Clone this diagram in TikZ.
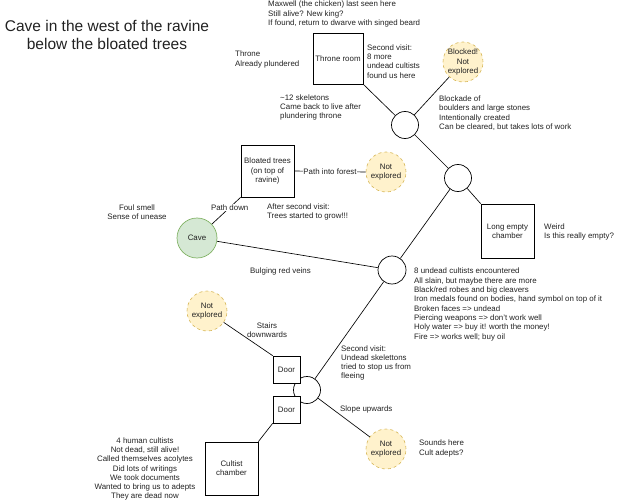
\documentclass[tikz,border=0pt]{standalone}
\usepackage{fontspec}
\setmainfont{Liberation Sans}
\definecolor{nefill}{HTML}{FFF2CC}
\definecolor{nedraw}{HTML}{D6B656}
\definecolor{cavefill}{HTML}{D5E8D4}
\definecolor{cavedraw}{HTML}{82B366}
\definecolor{txt}{HTML}{222222}
\begin{document}
\begin{tikzpicture}[x=1pt,y=-1pt,
  every node/.style={text=txt},
  small/.style={font=\fontsize{7.9}{9.3}\selectfont},
  note/.style={small,inner sep=0pt,align=left,anchor=west},
  cnote/.style={small,inner sep=0pt,align=center},
  room/.style={draw=black,fill=white,line width=0.7pt,small,align=center,inner sep=0pt},
  junc/.style={draw=black,fill=white,circle,line width=0.7pt,minimum size=27pt,inner sep=0pt},
  unexp/.style={draw=nedraw,fill=nefill,dashed,circle,line width=0.6pt,minimum size=40pt,inner sep=0pt,small,align=center},
  link/.style={draw=black,line width=0.65pt},
  elabel/.style={small,fill=white,inner sep=0.5pt}
]
\useasboundingbox (0,0) rectangle (637,500);

% title
\node[font=\fontsize{15.5}{18}\selectfont,align=center,inner sep=0pt] (title) at (107,35) {Cave in the west of the ravine\\below the bloated trees};

% rooms
\node[room,minimum width=50pt,minimum height=51pt] (throne) at (338,58.5) {Throne room};
\node[room,minimum width=53pt,minimum height=52pt] (trees) at (267.5,171) {Bloated trees\\(on top of\\ravine)};
\node[room,minimum width=53pt,minimum height=54pt] (long) at (507.5,231) {Long empty\\chamber};
\node[room,minimum width=53pt,minimum height=53pt] (cultist) at (231.5,468.5) {Cultist\\chamber};

% junctions
\node[junc] (j1) at (405,125) {};
\node[junc] (j2) at (458,178) {};
\node[junc,minimum size=28pt] (j3) at (392,270) {};
\node[junc] (j4) at (307,390) {};

% doors (on top of junction 4)
\node[room,minimum width=27pt,minimum height=27pt] (door1) at (286.5,369.5) {Door};
\node[room,minimum width=27pt,minimum height=27pt] (door2) at (286.5,409.5) {Door};

% cave
\node[draw=cavedraw,fill=cavefill,circle,line width=0.7pt,minimum size=40pt,inner sep=0pt,small] (cave) at (197,238) {Cave};

% unexplored
\node[unexp] (blocked) at (463,62) {Blocked!\\Not\\explored};
\node[unexp] (neforest) at (386,172) {Not\\explored};
\node[unexp] (nestairs) at (207,311) {Not\\explored};
\node[unexp] (neslope) at (386,449) {Not\\explored};

% connectors
\draw[link] (throne.south east) -- (j1);
\draw[link] (j1) -- (blocked);
\draw[link] (j1) -- (j2);
\draw[link] (j2) -- (long.north west);
\draw[link] (j2) -- (j3);
\draw[link] (cave) -- (j3);
\draw[link] (cave) -- node[elabel,pos=0.62] {Path down} (trees.south west);
\draw[link] (trees.east) -- node[elabel,pos=0.5] {Path into forest} (neforest.west);
\draw[link] (j4) -- (j3);
\draw[link] (nestairs) -- (door1.north west);
\draw[link] (j4) -- (neslope);
\draw[link] (door2.south west) -- (cultist.north east);

% notes
\node[note] (nmax) at (268,14) {Maxwell (the chicken) last seen here\\Still alive? New king?\\If found, return to dwarve with singed beard};
\node[note] (nthrone) at (235,59.5) {Throne\\Already plundered};
\node[note] (nsecond1) at (367,61.5) {Second visit:\\8 more\\undead cultists\\found us here};
\node[note] (nskel) at (280,107.5) {\textasciitilde12 skeletons\\Came back to live after\\plundering throne};
\node[note] (nblock) at (439,113) {Blockade of\\boulders and large stones\\Intentionally created\\Can be cleared, but takes lots of work};
\node[note] (nweird) at (544,232) {Weird\\Is this really empty?};
\node[cnote] (nfoul) at (137,212) {Foul smell\\Sense of unease};
\node[note] (nafter) at (267,212) {After second visit:\\Trees started to grow!!!};
\node[note] (nveins) at (250,271) {Bulging red veins};
\node[note] (nundead) at (414,304.5) {8 undead cultists encountered\\All slain, but maybe there are more\\Black/red robes and big cleavers\\Iron medals found on bodies, hand symbol on top of it\\Broken faces => undead\\Piercing weapons => don't work well\\Holy water => buy it! worth the money!\\Fire => works well; buy oil};
\node[cnote] (nstairs) at (267,330) {Stairs\\downwards};
\node[note] (nsecond2) at (341,363) {Second visit:\\Undead skelettons\\tried to stop us from\\fleeing};
\node[note] (nslope) at (340,409) {Slope upwards};
\node[note] (nsounds) at (419,448.5) {Sounds here\\Cult adepts?};
\node[cnote] (nhuman) at (145,469) {4 human cultists\\Not dead, still alive!\\Called themselves acolytes\\Did lots of writings\\We took documents\\Wanted to bring us to adepts\\They are dead now};
\end{tikzpicture}
\end{document}
